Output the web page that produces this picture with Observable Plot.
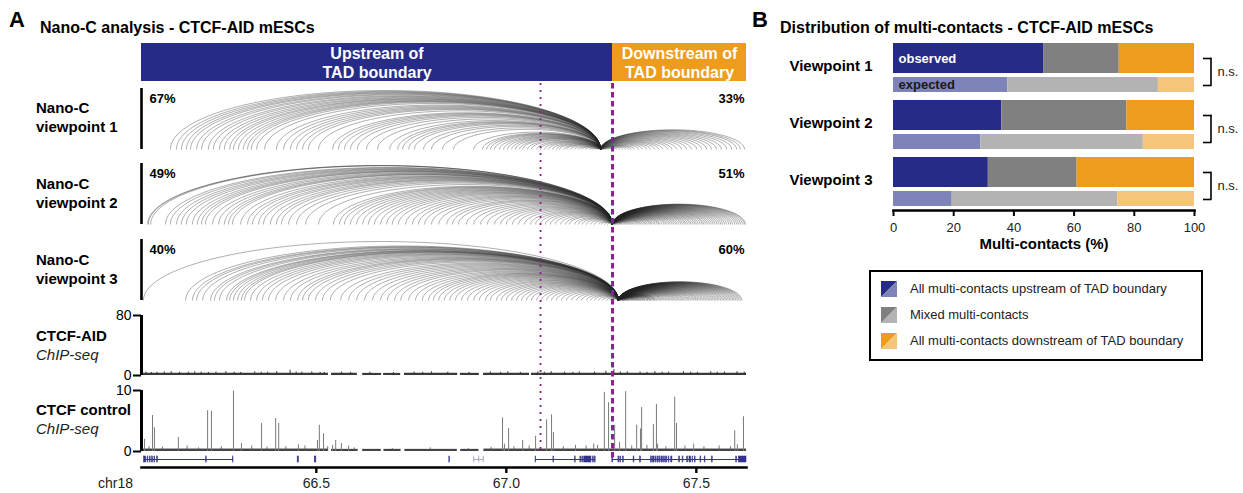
<!DOCTYPE html>
<html><head><meta charset="utf-8">
<script src="https://cdn.jsdelivr.net/npm/d3@7"></script>
<script src="https://cdn.jsdelivr.net/npm/@observablehq/plot@0.6"></script>
<style>
body{margin:0;background:#fff;font-family:"Liberation Sans",Arial,sans-serif;}
#root{position:relative;width:1243px;height:493px;overflow:hidden;background:#fff;}
.t{position:absolute;white-space:nowrap;color:#000;}
.legend{position:absolute;left:869px;top:270px;width:334px;height:91px;box-sizing:border-box;border:2px solid #000;background:#fff;}
.sw{position:absolute;left:10px;width:16px;height:16px;}
.lt{position:absolute;left:39px;font-size:13px;line-height:16px;color:#222;white-space:nowrap;}
</style></head>
<body><div id="root"></div>
<script>
// ---------------- DATA ----------------
const xmin = 66.040, xmax = 67.632;          // chr18 window (Mb)
const boundary = 67.2795;                    // TAD boundary (Mb)
const ctcfSite = 67.090;                     // dotted line (Mb)
const regionLabels = ["Upstream of\nTAD boundary", "Downstream of\nTAD boundary"];
const viewpointPos = [67.248, 67.279, 67.295];
const pctUpstream = [67, 49, 40];
const pctDownstream = [33, 51, 60];

const vp1Contacts = [66.116,66.132,66.145,66.158,66.169,66.185,66.198,66.216,66.229,66.245,66.258,66.272,66.282,66.295,66.308,66.319,66.329,66.343,66.364,66.395,66.414,66.432,66.448,66.464,66.479,66.506,66.543,66.558,66.574,66.590,66.608,66.632,66.661,66.693,66.714,66.727,66.743,66.758,66.782,66.803,66.832,66.861,66.914,66.937,66.948,66.958,66.969,66.982,66.993,67.003,67.014,67.024,67.035,67.043,67.056,67.066,67.080,67.090,67.101,67.111,67.122,67.132,67.140,67.151,67.158,67.169,67.180,67.190,67.198,67.208,67.219,67.227,67.235,
 67.258,67.263,67.269,67.277,67.282,67.290,67.298,67.306,67.314,67.322,67.329,67.337,67.348,67.358,67.369,67.379,67.390,67.401,67.411,67.424,67.435,67.448,67.461,67.474,67.487,67.501,67.514,67.527,67.540,67.553,67.566,67.580,67.593,67.606,67.616,67.627];

const vp2Contacts = [66.056,66.058,66.064,66.103,66.116,66.132,66.145,66.158,66.174,66.187,66.198,66.208,66.227,66.243,66.258,66.269,66.279,66.301,66.319,66.332,66.348,66.361,66.379,66.395,66.408,66.427,66.448,66.472,66.506,66.545,66.561,66.574,66.590,66.606,66.622,66.637,66.653,66.669,66.685,66.700,66.716,66.735,66.753,66.769,66.785,66.803,66.822,66.843,66.858,66.874,66.895,66.914,66.932,66.950,66.969,66.985,67.000,67.016,67.032,67.048,67.064,67.077,67.090,67.103,67.116,67.129,67.143,67.156,67.166,67.180,67.190,67.200,67.211,67.222,67.232,67.243,67.250,67.258,67.266,
 67.283,67.286,67.288,67.291,67.294,67.296,67.300,67.303,67.305,67.309,67.312,67.316,67.319,67.322,67.326,67.329,67.333,67.336,67.341,67.344,67.348,67.352,67.355,67.359,67.364,67.367,67.371,67.376,67.380,67.383,67.388,67.392,67.397,67.401,67.404,67.409,67.414,67.418,67.422,67.427,67.431,67.436,67.440,67.445,67.449,67.454,67.459,67.463,67.468,67.472,67.477,67.482,67.486,67.491,67.496,67.500,67.505,67.510,67.515,67.519,67.524,67.529,67.534,67.539,67.544,67.549,67.554,67.559,67.564,67.569,67.574,67.579,67.585,67.590,67.595,67.601,67.606,67.611,67.616,67.621,67.626,67.629];

const vp3Contacts = [66.045,66.156,66.174,66.185,66.201,66.222,66.232,66.245,66.264,66.272,66.282,66.293,66.303,66.311,66.327,66.343,66.358,66.374,66.393,66.414,66.432,66.451,66.464,66.479,66.498,66.516,66.537,66.564,66.585,66.606,66.627,66.648,66.669,66.687,66.706,66.722,66.743,66.761,66.779,66.795,66.808,66.822,66.837,66.851,66.866,66.882,66.898,66.914,66.929,66.945,66.958,66.974,66.987,67.000,67.014,67.027,67.040,67.053,67.066,67.080,67.093,67.106,67.119,67.132,67.145,67.158,67.172,67.185,67.198,67.211,67.222,67.232,67.243,67.253,67.264,67.272,67.279,
 67.297,67.298,67.299,67.301,67.302,67.304,67.305,67.306,67.308,67.309,67.311,67.312,67.313,67.315,67.316,67.318,67.319,67.321,67.322,67.323,67.326,67.327,67.329,67.331,67.332,67.334,67.336,67.337,67.339,67.341,67.342,67.345,67.346,67.348,67.350,67.352,67.353,67.356,67.358,67.359,67.362,67.364,67.365,67.368,67.371,67.372,67.374,67.377,67.379,67.380,67.383,67.386,67.388,67.390,67.393,67.396,67.399,67.403,67.406,67.409,67.413,67.416,67.420,67.423,67.427,67.430,67.434,67.437,67.441,67.444,67.448,67.452,67.455,67.459,67.463,67.466,67.470,67.474,67.478,67.481,67.485,67.489,67.493,67.497,67.500,67.504,67.508,67.512,67.516,67.520,67.524,67.528,67.532,67.536,67.540,67.544,67.548,67.552,67.556,67.560,67.564,67.568,67.572,67.576,67.580,67.584,67.588,67.592,67.596,67.600,67.604,67.608,67.612,67.616,67.620];

// CTCF-AID ChIP-seq: covered segments [start, end, level] and small spikes [pos, value]
const aidSegments = [[66.041,66.532,3.0],[66.540,66.608,3.0],[66.622,66.672,2.8],[66.677,66.722,2.8],[66.732,66.872,3.0],[66.879,66.929,2.9],[66.940,67.061,3.0],[67.066,67.632,3.0]];
const aidSpikes = [[66.052,4.5],[66.066,4.0],[66.081,4.2],[66.100,4.6],[66.118,5.0],[66.140,4.2],[66.163,4.4],[66.180,4.8],[66.197,4.6],[66.216,4.1],[66.236,4.5],[66.262,5.0],[66.284,4.3],[66.301,4.0],[66.338,4.8],[66.355,4.3],[66.372,4.4],[66.396,5.2],[66.431,7.0],[66.447,4.6],[66.462,4.5],[66.488,4.7],[66.510,4.2],[66.521,4.0],[66.566,4.6],[66.590,4.1],[66.641,4.2],[66.703,4.0],[66.757,4.5],[66.780,4.1],[66.803,4.8],[66.846,4.3],[66.902,4.1],[66.958,4.6],[66.985,4.2],[67.004,4.9],[67.037,4.2],[67.083,4.7],[67.100,4.3],[67.118,5.1],[67.153,4.4],[67.175,4.1],[67.192,4.7],[67.232,4.5],[67.262,5.8],[67.283,8.0],[67.300,4.6],[67.318,4.9],[67.352,4.6],[67.370,4.2],[67.391,5.2],[67.410,4.4],[67.427,4.5],[67.466,4.9],[67.485,4.3],[67.503,4.2],[67.538,5.0],[67.555,4.3],[67.574,4.6],[67.607,5.0],[67.626,4.4]];

// CTCF control ChIP-seq: covered segments and peaks [pos, value]
const ctrlSegments = [[66.041,66.532,0.4],[66.540,66.610,0.35],[66.622,66.671,0.35],[66.678,66.723,0.35],[66.733,66.871,0.35],[66.880,66.928,0.35],[66.941,67.632,0.4]];
const ctrlPeaks = [[66.048,2.0],[66.069,5.9],[66.074,3.9],[66.137,2.3],[66.214,6.7],[66.224,6.6],[66.282,9.9],[66.303,1.3],[66.356,4.6],[66.393,5.4],[66.401,4.6],[66.453,1.1],[66.503,1.8],[66.508,4.3],[66.519,2.9],[66.543,1.0],[66.551,1.8],[66.566,1.3],[66.585,0.9],[66.990,5.5],[66.995,1.2],[67.006,3.8],[67.043,1.8],[67.077,2.5],[67.106,5.2],[67.119,6.0],[67.124,3.1],[67.182,1.0],[67.240,1.0],[67.258,9.7],[67.269,8.0],[67.285,4.3],[67.298,1.5],[67.314,9.8],[67.343,4.3],[67.353,3.7],[67.356,7.2],[67.387,4.4],[67.395,7.7],[67.398,1.2],[67.443,8.9],[67.448,4.6],[67.493,1.2],[67.601,3.4],[67.608,1.1],[67.624,5.7]];
const ctrlSpikes = [[66.060,0.8],[66.095,0.7],[66.160,0.9],[66.190,0.6],[66.250,0.8],[66.330,0.9],[66.370,0.7],[66.420,0.8],[66.470,0.9],[66.530,0.8],[66.600,0.6],[66.700,0.5],[66.800,0.6],[66.900,0.5],[66.960,0.7],[67.020,0.8],[67.060,0.9],[67.150,0.8],[67.210,0.9],[67.230,1.2],[67.330,0.9],[67.370,1.0],[67.420,0.8],[67.470,0.9],[67.520,0.8],[67.560,0.9],[67.590,0.8]];

// gene annotation: bodies [start, end, kind] and exons [start, end, kind]
const geneBodies = [[66.048,66.282,"coding"],[66.915,66.941,"noncoding"],[67.077,67.235,"coding"],[67.279,67.632,"coding"]];
const geneExons = [[66.047,66.052,"coding"],[66.056,66.058,"coding"],[66.062,66.064,"coding"],[66.068,66.070,"coding"],[66.074,66.076,"coding"],[66.081,66.083,"coding"],[66.210,66.2115,"coding"],[66.2805,66.282,"coding"],
 [66.451,66.454,"coding"],[66.496,66.500,"coding"],[66.850,66.8515,"coding"],
 [66.915,66.9162,"noncoding"],[66.928,66.9292,"noncoding"],[66.940,66.9412,"noncoding"],
 [67.077,67.0785,"coding"],[67.124,67.1255,"coding"],[67.181,67.1825,"coding"],[67.195,67.197,"coding"],[67.200,67.202,"coding"],[67.205,67.224,"coding"],[67.228,67.230,"coding"],[67.233,67.235,"coding"],
 [67.279,67.281,"coding"],[67.295,67.297,"coding"],[67.300,67.302,"coding"],[67.307,67.309,"coding"],[67.335,67.337,"coding"],[67.352,67.354,"coding"],[67.381,67.383,"coding"],[67.386,67.390,"coding"],[67.393,67.395,"coding"],[67.398,67.401,"coding"],[67.404,67.406,"coding"],[67.409,67.412,"coding"],[67.415,67.417,"coding"],[67.420,67.423,"coding"],[67.427,67.429,"coding"],[67.434,67.437,"coding"],[67.455,67.457,"coding"],[67.464,67.466,"coding"],[67.476,67.478,"coding"],[67.482,67.486,"coding"],[67.490,67.4915,"coding"],[67.496,67.498,"coding"],[67.511,67.513,"coding"],[67.522,67.524,"coding"],[67.541,67.543,"coding"],[67.605,67.607,"coding"],[67.612,67.632,"coding"]];
const genomeTicks = [66.5, 67.0, 67.5];

// Panel B
const viewpoints = ["Viewpoint 1", "Viewpoint 2", "Viewpoint 3"];
const categories = ["upstream", "mixed", "downstream"];
const obsUpstream = [50, 36, 31.5];
const obsMixed = [25, 41.5, 29.5];
const obsDownstream = [25, 22.5, 39];
const expUpstream = [38, 29, 19.5];
const expMixed = [50, 54, 55];
const expDownstream = [12, 17, 25.5];
const significance = ["n.s.", "n.s.", "n.s."];
const pctTicks = [0, 20, 40, 60, 80, 100];
const legendLabels = ["All multi-contacts upstream of TAD boundary", "Mixed multi-contacts", "All multi-contacts downstream of TAD boundary"];

// ---------------- STYLE ----------------
const palette = {
  observed: {upstream: "#252b87", mixed: "#808080", downstream: "#ed9c1d"},
  expected: {upstream: "#7e84ba", mixed: "#b3b3b3", downstream: "#f4c57a"}
};
const geneColor = {coding: "#34348c", noncoding: "#a9a9cc"};
const purple = "#8e1f8e";
const SVGSTYLE = 'font-family:"Liberation Sans",Arial,sans-serif;font-size:14px;background:transparent;overflow:visible;max-width:none;';

// ---------------- HELPERS ----------------
const root = document.getElementById("root");
function place(node, left, top) {
  node.style.position = "absolute";
  node.style.left = left + "px";
  node.style.top = top + "px";
  root.appendChild(node);
}
function label(txt, x, base, size, opts = {}) {
  const d = document.createElement("div");
  d.className = "t";
  d.textContent = txt;
  d.style.fontSize = size + "px";
  d.style.lineHeight = size + "px";
  d.style.fontWeight = opts.bold ? "bold" : "normal";
  d.style.fontStyle = opts.italic ? "italic" : "normal";
  if (opts.color) d.style.color = opts.color;
  const top = base - 0.8465 * size;
  if (opts.right != null) { d.style.right = (1243 - opts.right) + "px"; d.style.top = top + "px"; root.appendChild(d); }
  else place(d, x, top);
}
const W = 760, ML = 141, MR = 14;
const pxPerMb = (W - ML - MR) / (xmax - xmin);
const xTrack = {domain: [xmin, xmax], axis: null};
function track(opts) {
  return Plot.plot({width: W, marginLeft: ML, marginRight: MR, x: xTrack, style: SVGSTYLE, ...opts});
}
// half-ellipse curve between two baseline points
function arcCurve(hFn) {
  return (context) => {
    let pts = [];
    return {
      areaStart() {}, areaEnd() {},
      lineStart() { pts = []; },
      point(x, y) { pts.push([+x, +y]); },
      lineEnd() {
        if (pts.length < 2) return;
        const [x1, y1] = pts[0], [x2, y2] = pts[pts.length - 1];
        const h = hFn(Math.abs(x2 - x1));
        const k = 0.5523, mx = (x1 + x2) / 2, rx = (x2 - x1) / 2;
        context.moveTo(x1, y1);
        context.bezierCurveTo(x1, y1 - k * h, mx - k * rx, y1 - h, mx, y1 - h);
        context.bezierCurveTo(mx + k * rx, y1 - h, x2, y2 - k * h, x2, y2);
      }
    };
  };
}

// ---------------- TITLES / LABELS ----------------
label("A", 9, 28, 22, {bold: true});
label("Nano-C analysis - CTCF-AID mESCs", 40, 34, 16, {bold: true});
label("B", 752, 28, 22, {bold: true});
label("Distribution of multi-contacts - CTCF-AID mESCs", 780, 34, 16, {bold: true});
[[113, 132], [189, 208], [265, 284]].forEach(([a, b], i) => {
  label("Nano-C", 36, a, 15, {bold: true});
  label("viewpoint " + (i + 1), 36, b, 15, {bold: true});
});
label("CTCF-AID", 36, 341, 15, {bold: true});
label("ChIP-seq", 36, 360, 15, {italic: true, color: "#222"});
label("CTCF control", 36, 415, 15, {bold: true});
label("ChIP-seq", 36, 434, 15, {italic: true, color: "#222"});
label("chr18", 0, 488, 14, {right: 133, color: "#222"});

// ---------------- HEADER ----------------
const regions = [
  {label: regionLabels[0], start: xmin, end: boundary, side: "upstream"},
  {label: regionLabels[1], start: boundary, end: xmax, side: "downstream"}
];
place(track({
  height: 38, marginTop: 0, marginBottom: 0,
  marks: [
    Plot.rect(regions, {x1: "start", x2: "end", fill: d => palette.observed[d.side]}),
    Plot.text(regions, {x: d => (d.start + d.end) / 2, text: "label", frameAnchor: "middle", fill: "white", fontWeight: "bold", fontSize: 16, lineHeight: 1.2})
  ]
}), 0, 43);

// ---------------- ARC TRACKS ----------------
function arcTrack(i, contacts, top, height, exponent) {
  const vp = viewpointPos[i];
  const links = contacts.map(pos => ({vp, pos}));
  const smax = d3.max(contacts, c => Math.abs(c - vp)) * pxPerMb;
  const hmax = height - 4;
  const hFn = s => hmax * Math.pow(s / smax, exponent);
  place(track({
    height, marginTop: 0, marginBottom: 1,
    y: {domain: [0, 1], axis: null},
    marks: [
      Plot.link(links, {x1: "vp", x2: "pos", y1: 0, y2: 0, curve: arcCurve(hFn), stroke: "#222", strokeWidth: 0.6, strokeOpacity: 0.6}),
      Plot.ruleX([xmin], {y1: 0, y2: 1, stroke: "#000", strokeWidth: 2.6, insetBottom: -1}),
      Plot.text([pctUpstream[i]], {text: d => d + "%", frameAnchor: "top-left", dx: 8, dy: 6, fontWeight: "bold", fontSize: 13}),
      Plot.text([pctDownstream[i]], {text: d => d + "%", frameAnchor: "top-right", dx: -2, dy: 6, fontWeight: "bold", fontSize: 13})
    ]
  }), 0, top);
}
arcTrack(0, vp1Contacts, 87, 63, 1.0);
arcTrack(1, vp2Contacts, 162, 63, 0.85);
arcTrack(2, vp3Contacts, 238, 63, 0.85);

// ---------------- CHIP TRACKS ----------------
function chipAxis(max) {
  return [
    Plot.ruleX([xmin], {y1: 0, y2: max, stroke: "#000", strokeWidth: 3}),
    Plot.axisY({ticks: [0, max], tickSize: 8, tickPadding: 2, strokeWidth: 2, fontSize: 14, label: null, tickFormat: d3.format("d")})
  ];
}
place(track({
  height: 75, marginTop: 10, marginBottom: 5,
  y: {domain: [0, 80]},
  marks: [
    Plot.rect(aidSegments, {x1: d => d[0], x2: d => d[1], y1: 0, y2: d => d[2], fill: "#3a3a3a"}),
    Plot.ruleX(aidSpikes, {x: d => d[0], y1: 0, y2: d => d[1], stroke: "#333", strokeWidth: 1}),
    ...chipAxis(80)
  ]
}), 0, 305);
place(track({
  height: 76, marginTop: 10, marginBottom: 5,
  y: {domain: [0, 10]},
  marks: [
    Plot.rect(ctrlSegments, {x1: d => d[0], x2: d => d[1], y1: 0, y2: d => d[2], fill: "#444"}),
    Plot.ruleX(ctrlSpikes, {x: d => d[0], y1: 0, y2: d => d[1], stroke: "#555", strokeWidth: 0.8}),
    Plot.ruleX(ctrlPeaks, {x: d => d[0], y1: 0, y2: d => d[1], stroke: "#7a7a7a", strokeWidth: 1}),
    ...chipAxis(10)
  ]
}), 0, 380);

// ---------------- GENES ----------------
place(track({
  height: 10, marginTop: 2, marginBottom: 2,
  y: {domain: [0, 1], axis: null},
  marks: [
    Plot.ruleY(geneBodies, {y: 0.5, x1: d => d[0], x2: d => d[1], stroke: d => geneColor[d[2]], strokeWidth: 1}),
    Plot.rect(geneExons, {x1: d => d[0], x2: d => d[1], y1: 0, y2: 1, fill: d => geneColor[d[2]], stroke: d => geneColor[d[2]], strokeWidth: 0.6})
  ]
}), 0, 454);

// ---------------- GENOMIC AXIS ----------------
place(track({
  height: 32, marginTop: 5, marginBottom: 27,
  marks: [
    Plot.frame({anchor: "bottom", stroke: "#000", strokeWidth: 2.6}),
    Plot.axisX({ticks: genomeTicks, tickFormat: d3.format(".1f"), tickSize: 6, tickPadding: 5, strokeWidth: 2.4, fontSize: 14, label: null, fill: "#222"})
  ]
}), 0, 462);

// ---------------- PURPLE GUIDE LINES ----------------
const overlay = track({
  height: 378, marginTop: 0, marginBottom: 0,
  marks: [
    Plot.ruleX([ctcfSite], {stroke: purple, strokeWidth: 1.8, strokeDasharray: "2,5", insetBottom: 12}),
    Plot.ruleX([boundary], {stroke: purple, strokeWidth: 3, strokeDasharray: "5.5,3.5"})
  ]
});
overlay.style.pointerEvents = "none";
place(overlay, 0, 83);

// ---------------- PANEL B ----------------
const obsRows = viewpoints.flatMap((vp, i) => [
  {vp, cat: "upstream", value: obsUpstream[i]},
  {vp, cat: "mixed", value: obsMixed[i]},
  {vp, cat: "downstream", value: obsDownstream[i]}
]);
const expRows = viewpoints.flatMap((vp, i) => [
  {vp, cat: "upstream", value: expUpstream[i]},
  {vp, cat: "mixed", value: expMixed[i]},
  {vp, cat: "downstream", value: expDownstream[i]}
]);
const sigRows = viewpoints.map((vp, i) => ({vp, text: significance[i]}));
const panelB = Plot.plot({
  width: 483, height: 260, marginLeft: 133, marginRight: 49, marginTop: 40, marginBottom: 50,
  style: SVGSTYLE,
  x: {domain: [0, 100], axis: null},
  y: {domain: viewpoints, range: [43, 206], paddingInner: 0.14, paddingOuter: 0, round: false, axis: null},
  color: {type: "identity"},
  marks: [
    Plot.barX(obsRows, {x: "value", y: "vp", fill: d => palette.observed[d.cat], insetBottom: 19}),
    Plot.barX(expRows, {x: "value", y: "vp", fill: d => palette.expected[d.cat], insetTop: 34}),
    Plot.ruleX(viewpoints, {x: 0, y: d => d, dx: -8, stroke: "#000", strokeWidth: 4}),
    Plot.text(viewpoints, {x: 0, y: d => d, text: d => d, dx: -21, dy: -2, textAnchor: "end", fontWeight: "bold", fontSize: 15}),
    Plot.text([{vp: viewpoints[0], text: "observed"}], {x: 0, y: "vp", text: "text", dx: 5, dy: -9.5, textAnchor: "start", fill: "white", fontWeight: "bold", fontSize: 13}),
    Plot.text([{vp: viewpoints[0], text: "expected"}], {x: 0, y: "vp", text: "text", dx: 5, dy: 17, textAnchor: "start", fill: "#1a1a1a", fontWeight: "bold", fontSize: 13}),
    Plot.tickX(viewpoints, {x: 100, y: d => d, dx: 16.5, insetTop: 14.7, insetBottom: 6.2, stroke: "#000", strokeWidth: 1.6}),
    Plot.ruleY(viewpoints, {y: d => d, x1: 100, x2: 100, insetLeft: 9, insetRight: -17.3, dy: -9.5, stroke: "#000", strokeWidth: 1.6}),
    Plot.ruleY(viewpoints, {y: d => d, x1: 100, x2: 100, insetLeft: 9, insetRight: -17.3, dy: 17.5, stroke: "#000", strokeWidth: 1.6}),
    Plot.text(sigRows, {x: 100, y: "vp", text: "text", dx: 23, dy: 4, textAnchor: "start", fontSize: 13, fill: "#222"}),
    Plot.frame({anchor: "bottom", stroke: "#000", strokeWidth: 2.6}),
    Plot.axisX({ticks: pctTicks, tickSize: 6, tickPadding: 6, strokeWidth: 2, fontSize: 13, label: null, fill: "#222"}),
    Plot.text(["Multi-contacts (%)"], {frameAnchor: "bottom", dy: 34, lineAnchor: "middle", fontWeight: "bold", fontSize: 15})
  ]
});
place(panelB, 760, 0);

// ---------------- LEGEND ----------------
const legend = document.createElement("div");
legend.className = "legend";
categories.forEach((c, i) => {
  const cy = 17 + i * 26;
  const sw = document.createElement("div");
  sw.className = "sw";
  sw.style.top = (cy - 8) + "px";
  sw.style.background = `linear-gradient(to bottom right, ${palette.observed[c]} 50%, ${palette.expected[c]} 50%)`;
  legend.appendChild(sw);
  const t = document.createElement("div");
  t.className = "lt";
  t.style.top = (cy - 8) + "px";
  t.textContent = legendLabels[i];
  legend.appendChild(t);
});
root.appendChild(legend);
</script>
</body></html>
